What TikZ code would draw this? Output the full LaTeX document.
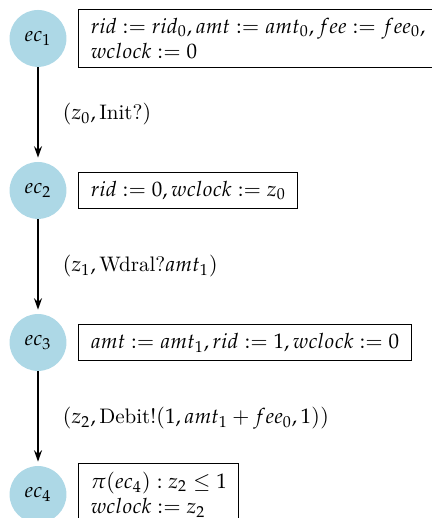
\documentclass[tikz,border=0pt]{standalone}
\usepackage{amssymb}
\usepackage{amsmath}
\usepackage{mathpazo}
\usetikzlibrary{positioning}
\usetikzlibrary{arrows.meta}

\definecolor{ecblue}{RGB}{173,216,230}

\tikzset{
	ecstate/.style={circle,fill=ecblue,minimum size=27.1pt,inner sep=0pt},
	ecbox/.style={draw,thin,align=left,inner xsep=5.7pt,inner ysep=4pt,right=5.5pt of #1},
	eclabel/.style={midway,right=8.1pt},
	ecarrow/.style={-{Stealth[length=5.4pt,width=3.8pt]},semithick,shorten >=1.9pt}
}

\begin{document}
\begin{tikzpicture}
	%frame
	\useasboundingbox (0,0) rectangle (205.7pt,-246.7pt);
	
	%states
	\node[ecstate] (ec1) at (18.1pt,-18.3pt) {$ec_1$};
	\node[ecstate,below=44.9pt of ec1] (ec2) {$ec_2$};
	\node[ecstate,below=44.9pt of ec2] (ec3) {$ec_3$};
	\node[ecstate,below=44.9pt of ec3] (ec4) {$ec_4$};
	
	%updates
	\node[ecbox=ec1] (up1) {$rid := rid_0, amt := amt_0, fee := fee_0,$\\ $wclock := 0$};
	\node[ecbox=ec2] (up2) {$rid := 0, wclock := z_0$};
	\node[ecbox=ec3] (up3) {$amt := amt_1, rid := 1, wclock := 0$};
	\node[ecbox=ec4] (up4) {$\pi(ec_4) : z_2 \le 1$\\ $wclock := z_2$};
	
	%transitions
	\draw[ecarrow] (ec1) -- node[eclabel] (tr1) {$(z_0,\text{Init?})$} (ec2);
	\draw[ecarrow] (ec2) -- node[eclabel] (tr2) {$(z_1,\text{Wdral?}amt_1)$} (ec3);
	\draw[ecarrow] (ec3) -- node[eclabel] (tr3) {$(z_2,\text{Debit!}(1,amt_1+fee_0,1))$} (ec4);
\end{tikzpicture}
\end{document}
